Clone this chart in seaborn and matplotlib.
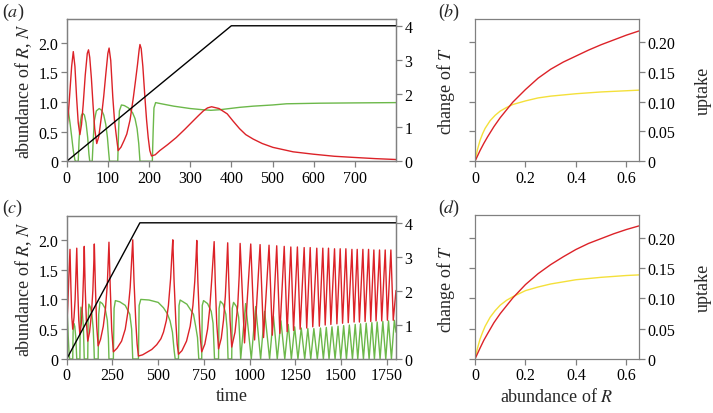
import numpy as np
import pandas as pd
import matplotlib
matplotlib.use("Agg")
import matplotlib.pyplot as plt
import seaborn as sns

sns.set_style("ticks")
plt.rcParams["font.family"] = ["Liberation Serif", "DejaVu Serif"]
plt.rcParams["mathtext.fontset"] = "stix"

RED = "#dc2228"
GREEN = "#6cb84a"
YELLOW = "#f4e03a"
SPINE = "#808080"

# ── (a) time series ─────────────────────────────────────────────────────────
t_red_a = [0, 4, 8, 12, 16, 20, 24, 28, 32,
           36, 40, 45, 50, 53, 56, 60, 64, 68, 73,
           78, 85, 90, 95, 100, 103, 107, 112, 116, 120, 125,
           132, 140, 146, 154, 162, 167, 172, 176, 178, 181, 185, 190, 194, 198, 202, 206,
           215, 226, 245, 266, 287, 307, 320, 332, 342, 352,
           370, 390, 404, 420, 435, 453, 475, 501, 550, 599, 650, 696, 750, 800]
red_a = [0.50, 0.80, 1.20, 1.60, 1.85, 1.60, 1.08, 0.65, 0.45,
         0.62, 0.95, 1.45, 1.82, 1.88, 1.75, 1.40, 0.95, 0.55, 0.30,
         0.42, 0.79, 1.10, 1.47, 1.82, 1.91, 1.70, 1.08, 0.70, 0.46, 0.18,
         0.24, 0.36, 0.46, 0.70, 1.08, 1.35, 1.63, 1.88, 1.97, 1.90, 1.60, 1.08, 0.70, 0.40, 0.18, 0.09,
         0.11, 0.18, 0.28, 0.40, 0.54, 0.68, 0.77, 0.85, 0.90, 0.92,
         0.89, 0.80, 0.68, 0.55, 0.45, 0.375, 0.30, 0.235, 0.16, 0.12, 0.085, 0.066, 0.045, 0.03]

t_green_a = [0, 4, 8, 12, 16, 20, 22,
             28, 30, 33, 36, 39, 43, 47, 51, 54, 56,
             62, 64, 67, 72, 79, 85, 90, 95, 99, 102, 104,
             124, 126, 128, 133, 140, 150, 160, 166, 171, 175, 178,
             208, 210, 212, 216, 230, 260, 300, 330, 350, 372, 396, 420, 453, 500, 534, 615, 700, 800]
green_a = [1.00, 0.85, 0.65, 0.42, 0.18, 0.02, 0.0,
           0.0, 0.35, 0.65, 0.78, 0.81, 0.78, 0.65, 0.40, 0.12, 0.0,
           0.0, 0.30, 0.68, 0.85, 0.89, 0.86, 0.78, 0.62, 0.40, 0.15, 0.0,
           0.0, 0.50, 0.85, 0.95, 0.94, 0.90, 0.82, 0.72, 0.55, 0.30, 0.0,
           0.0, 0.50, 0.90, 0.99, 0.97, 0.93, 0.89, 0.87, 0.86, 0.87, 0.89, 0.91, 0.93, 0.95, 0.97, 0.98, 0.985, 0.99]

t_T_a = [0, 400, 800]
T_a = [0, 4, 4]

# ── (c) time series ──────────────────────────────────────────────────────────
t_red_c = [0, 6, 12, 18, 23, 28, 33,
           40, 46, 51, 55, 60, 66, 72,
           80, 87, 92, 96, 101, 108, 115,
           125, 135, 143, 148, 151, 157, 164, 172,
           185, 200, 212, 222, 228, 231, 238, 246, 255,
           275, 300, 320, 335, 347, 355, 361, 368, 378, 385, 392,
           415, 437, 465, 492, 515, 529, 545, 556, 568, 575, 580, 587, 597, 604, 611,
           630, 655, 675, 690, 700, 707, 711, 717, 726, 732, 738,
           755, 770, 782, 792, 800, 806, 812, 820, 830,
           845, 857, 867, 874, 880, 886, 893, 902,
           920, 935, 943]
red_c = [0.50, 0.90, 1.40, 1.84, 1.20, 0.70, 0.50,
         0.70, 1.00, 1.45, 1.86, 1.20, 0.65, 0.41,
         0.60, 0.95, 1.40, 1.89, 1.20, 0.60, 0.30,
         0.45, 0.75, 1.15, 1.60, 1.93, 1.20, 0.55, 0.22,
         0.33, 0.55, 0.85, 1.25, 1.70, 1.96, 1.20, 0.50, 0.12,
         0.18, 0.30, 0.50, 0.80, 1.20, 1.65, 2.00, 1.30, 0.60, 0.25, 0.05,
         0.07, 0.11, 0.16, 0.24, 0.34, 0.45, 0.65, 0.90, 1.35, 1.75, 2.00, 1.30, 0.60, 0.25, 0.08,
         0.14, 0.30, 0.55, 0.90, 1.30, 1.70, 1.99, 1.30, 0.60, 0.30, 0.12,
         0.25, 0.50, 0.85, 1.30, 1.70, 1.97, 1.30, 0.60, 0.17,
         0.35, 0.65, 1.05, 1.50, 1.95, 1.30, 0.65, 0.20,
         0.45, 0.90, 1.40]

# dense oscillation after t ~ 950: red peaks and troughs
red_c_peak_t = [948, 1006, 1057, 1106, 1148, 1189, 1225, 1261, 1298, 1331, 1367, 1400,
                1431, 1464, 1495, 1526, 1559, 1588, 1619, 1650, 1679, 1710, 1741, 1772]
red_c_peak = [1.94, 1.93, 1.92, 1.91, 1.90, 1.89, 1.88, 1.88, 1.87, 1.87, 1.86, 1.86,
              1.86, 1.85, 1.85, 1.85, 1.84, 1.84, 1.84, 1.84, 1.83, 1.83, 1.83, 1.83]
red_c_trough_t = [972, 1027, 1076, 1124, 1165, 1205, 1240, 1276, 1312, 1345, 1381, 1413,
                  1444, 1477, 1508, 1539, 1571, 1600, 1631, 1662, 1691, 1722, 1753, 1785]
red_c_trough = [0.27, 0.32, 0.36, 0.40, 0.43, 0.46, 0.48, 0.50, 0.52, 0.54, 0.55, 0.57,
                0.58, 0.59, 0.60, 0.61, 0.62, 0.62, 0.63, 0.63, 0.64, 0.64, 0.65, 0.65]

t_green_c = [0, 4, 8, 12, 16,
             33, 35, 38, 44, 50, 53, 55,
             72, 74, 78, 85, 91, 94, 96,
             115, 117, 121, 128, 138, 145, 149, 151,
             172, 175, 182, 195, 210, 222, 228, 231,
             255, 259, 266, 290, 320, 345, 355, 361,
             392, 396, 405, 450, 500, 529, 550, 565, 578, 587, 593,
             611, 614, 620, 657, 693, 705, 715, 722,
             738, 741, 748, 770, 790, 800, 808,
             830, 833, 840, 855, 870, 877, 882,
             902, 905, 912, 928, 940, 946]
green_c = [1.00, 0.70, 0.40, 0.15, 0.0,
           0.0, 0.45, 0.60, 0.55, 0.35, 0.15, 0.0,
           0.0, 0.60, 0.87, 0.80, 0.55, 0.25, 0.0,
           0.0, 0.65, 0.92, 0.88, 0.75, 0.50, 0.20, 0.0,
           0.0, 0.75, 0.96, 0.93, 0.85, 0.65, 0.35, 0.0,
           0.0, 0.85, 0.98, 0.96, 0.90, 0.75, 0.50, 0.0,
           0.0, 0.90, 1.00, 0.99, 0.95, 0.86, 0.76, 0.64, 0.45, 0.15, 0.0,
           0.0, 0.90, 0.99, 0.92, 0.75, 0.55, 0.36, 0.0,
           0.0, 0.90, 0.98, 0.93, 0.80, 0.60, 0.0,
           0.0, 0.85, 0.97, 0.92, 0.75, 0.50, 0.0,
           0.0, 0.85, 0.95, 0.88, 0.70, 0.35]

green_c_zero_t = [951, 1009, 1060, 1109, 1151, 1192, 1228, 1264, 1301, 1334, 1370, 1403,
                  1434, 1467, 1498, 1529, 1562, 1591, 1622, 1653, 1682, 1713, 1744, 1775]
green_c_peak_t = [978, 1033, 1082, 1130, 1171, 1211, 1246, 1282, 1318, 1351, 1387, 1419,
                  1450, 1483, 1514, 1545, 1577, 1606, 1637, 1668, 1697, 1728, 1759, 1791]
green_c_peak = [0.93, 0.88, 0.80, 0.72, 0.64, 0.58, 0.54, 0.52, 0.51, 0.51, 0.52, 0.53,
                0.54, 0.55, 0.56, 0.57, 0.58, 0.59, 0.60, 0.61, 0.62, 0.63, 0.64, 0.65]

t_T_c = [0, 400, 1800]
T_c = [0, 4, 4]

# ── (b), (d) functional responses ────────────────────────────────────────────
R_axis = [0, 0.01, 0.02, 0.035, 0.05, 0.075, 0.10, 0.15, 0.20, 0.25, 0.30, 0.35, 0.40,
          0.45, 0.50, 0.55, 0.60, 0.65]
red_b = [0, 0.009, 0.018, 0.030, 0.041, 0.058, 0.073, 0.099, 0.120, 0.139, 0.154, 0.166,
         0.176, 0.186, 0.195, 0.203, 0.211, 0.218]
red_d = [0, 0.009, 0.018, 0.031, 0.042, 0.060, 0.075, 0.101, 0.123, 0.141, 0.156, 0.169,
         0.181, 0.191, 0.199, 0.207, 0.214, 0.220]

R_axis_y = [0, 0.01, 0.02, 0.03, 0.04, 0.06, 0.08, 0.10, 0.125, 0.15, 0.20, 0.25, 0.30,
            0.40, 0.50, 0.60, 0.65]
yellow_b = [0, 0.020, 0.035, 0.046, 0.055, 0.068, 0.077, 0.084, 0.090, 0.095, 0.101, 0.106,
            0.109, 0.113, 0.116, 0.118, 0.119]
yellow_d = [0, 0.018, 0.033, 0.044, 0.054, 0.069, 0.080, 0.089, 0.097, 0.103, 0.113, 0.119,
            0.124, 0.131, 0.135, 0.138, 0.139]


def alternate(t1, v1, t2, v2):
    ts, vs = [], []
    for a, b, c, d in zip(t1, v1, t2, v2):
        ts += [a, c]
        vs += [b, d]
    return ts, vs


def line(ax, x, y, color, lw=1.0):
    df = pd.DataFrame({"x": x, "y": y})
    sns.lineplot(data=df, x="x", y="y", ax=ax, color=color, lw=lw,
                 estimator=None, sort=False)
    ax.set_xlabel("")
    ax.set_ylabel("")


def style(ax):
    for s in ax.spines.values():
        s.set_visible(True)
        s.set_color(SPINE)
        s.set_linewidth(0.9)
    ax.tick_params(colors=SPINE, labelcolor="black", length=4, width=0.9,
                   direction="out", labelsize=11.5, pad=2)


fig = plt.figure(figsize=(7.13, 4.14), dpi=100)
W, H = 713, 414


def box(l, r, t, b):
    return [l / W, (H - b) / H, (r - l) / W, (b - t) / H]


ax_a = fig.add_axes(box(66.7, 396, 20, 162.3))
ax_b = fig.add_axes(box(475, 639, 20, 162.3))
ax_c = fig.add_axes(box(66.7, 396, 217, 360))
ax_d = fig.add_axes(box(475, 639, 216, 360))

# time-series panels
dense_red = alternate(red_c_peak_t, red_c_peak, red_c_trough_t, red_c_trough)
dense_green = alternate(green_c_zero_t, [0.0] * len(green_c_zero_t), green_c_peak_t, green_c_peak)
series_c_red = (t_red_c + dense_red[0] + [1800], red_c + dense_red[1] + [1.15])
series_c_green = (t_green_c + dense_green[0] + [1800], green_c + dense_green[1] + [0.45])

panels = [
    (ax_a, (t_red_a, red_a), (t_green_a, green_a), (t_T_a, T_a), 800, range(0, 800, 100)),
    (ax_c, series_c_red, series_c_green, (t_T_c, T_c), 1800, range(0, 1800, 250)),
]
for ax, red, green, blk, xmax, xt in panels:
    line(ax, green[0], green[1], GREEN)
    line(ax, red[0], red[1], RED)
    ax.set_xlim(0, xmax)
    ax.set_ylim(0, 2.4)
    ax.set_yticks([0, 0.5, 1.0, 1.5, 2.0])
    ax.set_yticklabels(["0", "0.5", "1.0", "1.5", "2.0"])
    ax.set_xticks(list(xt))
    ax.set_xticklabels([str(v) for v in xt])
    ax.set_ylabel("abundance of $R$, $N$", fontsize=13, labelpad=3)
    style(ax)
    ax2 = ax.twinx()
    line(ax2, blk[0], blk[1], "black")
    ax2.set_ylim(0, 4.2)
    ax2.set_yticks([0, 1, 2, 3, 4])
    ax2.set_ylabel("change of $T$", fontsize=13, labelpad=16)
    style(ax2)

ax_c.set_xlabel("time", fontsize=13, labelpad=3)

# functional response panels
for ax, red, yel in [(ax_b, red_b, yellow_b), (ax_d, red_d, yellow_d)]:
    line(ax, R_axis_y, yel, YELLOW)
    line(ax, R_axis, red, RED)
    ax.set_xlim(0, 0.65)
    ax.set_ylim(0, 0.238)
    ax.set_xticks([0, 0.2, 0.4, 0.6])
    ax.set_xticklabels(["0", "0.2", "0.4", "0.6"])
    ax.set_yticks([0, 0.05, 0.10, 0.15, 0.20])
    ax.set_yticklabels(["0", "0.05", "0.10", "0.15", "0.20"])
    style(ax)
    ax.tick_params(axis="y", left=True, right=True, labelleft=False, labelright=True)
    ax.yaxis.set_label_position("right")
    ax.set_ylabel("uptake", fontsize=13, labelpad=14)

ax_d.set_xlabel("abundance of $R$", fontsize=13, labelpad=3)

for x, y, s in [(2, 12, "($a$)"), (438, 12, "($b$)"), (2, 208, "($c$)"), (438, 208, "($d$)")]:
    fig.text(x / W, 1 - y / H, s, fontsize=13, va="center", ha="left")

fig.savefig("out.png", dpi=100)
